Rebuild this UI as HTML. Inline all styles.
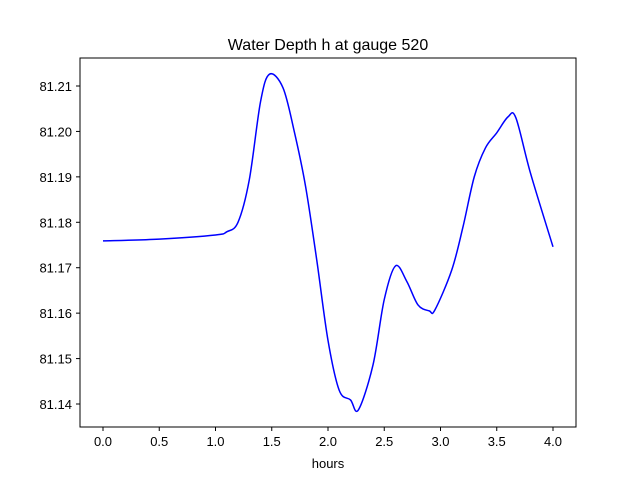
<!DOCTYPE html>
<html><head><meta charset="utf-8"><style>
body{margin:0;background:#fff;font-family:"Liberation Sans","DejaVu Sans",sans-serif;}
</style></head><body>
<svg id="chart" width="640" height="480" viewBox="0 0 640 480" xmlns="http://www.w3.org/2000/svg">
<rect width="640" height="480" fill="#fff"/>
<text x="328" y="50" font-size="16" text-anchor="middle">Water Depth h at gauge 520</text>
<g id="plot"></g>
<rect x="80" y="58" width="496" height="369" fill="none" stroke="#000" stroke-width="1"/>
<text x="328" y="468" font-size="13" text-anchor="middle">hours</text>
</svg>
<script>
const times=[0,0.5,1.0,1.1,1.2,1.3,1.4,1.48,1.6,1.7,1.8,1.9,2.0,2.1,2.2,2.27,2.4,2.5,2.6,2.7,2.8,2.9,2.95,3.1,3.2,3.3,3.4,3.5,3.6,3.67,3.8,4.0];
const depth=[81.1759,81.1763,81.1772,81.1779,81.1800,81.1893,81.2065,81.2126,81.2096,81.2000,81.1880,81.1717,81.1540,81.1430,81.1409,81.1387,81.1486,81.1630,81.1704,81.1670,81.1618,81.1605,81.1607,81.1695,81.1790,81.1900,81.1964,81.1997,81.2032,81.2030,81.1908,81.1746];
const xTicks=[0,0.5,1.0,1.5,2.0,2.5,3.0,3.5,4.0];
const xTickLabels=["0.0","0.5","1.0","1.5","2.0","2.5","3.0","3.5","4.0"];
const yTicks=[81.14,81.15,81.16,81.17,81.18,81.19,81.20,81.21];
const yTickLabels=["81.14","81.15","81.16","81.17","81.18","81.19","81.20","81.21"];
const X=t=>103+t*112.5;
const Y=v=>86+(81.21-v)*4542.9;
const NS="http://www.w3.org/2000/svg";
const g=document.getElementById('plot');
function mk(tag,attrs){const e=document.createElementNS(NS,tag);for(const k in attrs)e.setAttribute(k,attrs[k]);g.appendChild(e);return e;}
xTicks.forEach((t,i)=>{
  const l=mk('line',{x1:X(t),x2:X(t),y1:427,y2:431,stroke:'#000'});
  
  
  const tx=mk('text',{x:X(t),y:446,'font-size':13,'text-anchor':'middle'});
  tx.textContent=xTickLabels[i];
  
  
});
yTicks.forEach((v,i)=>{
  const l=mk('line',{x1:76,x2:80,y1:Y(v),y2:Y(v),stroke:'#000'});
  
  
  const tx=mk('text',{x:72,y:Y(v)+5,'font-size':13,'text-anchor':'end'});
  tx.textContent=yTickLabels[i];
  
  
});
// Catmull-Rom smooth path
const pts=times.map((t,i)=>[X(t),Y(depth[i])]);
let d='M'+pts[0][0]+','+pts[0][1];
for(let i=0;i<pts.length-1;i++){
  const p0=pts[Math.max(0,i-1)],p1=pts[i],p2=pts[i+1],p3=pts[Math.min(pts.length-1,i+2)];
  const c1x=p1[0]+(p2[0]-p0[0])/6,c1y=p1[1]+(p2[1]-p0[1])/6;
  const c2x=p2[0]-(p3[0]-p1[0])/6,c2y=p2[1]-(p3[1]-p1[1])/6;
  d+=` C${c1x},${c1y} ${c2x},${c2y} ${p2[0]},${p2[1]}`;
}
const path=mk('path',{d:d,fill:'none',stroke:'#0000ff','stroke-width':1.5});


</script>
</body></html>
